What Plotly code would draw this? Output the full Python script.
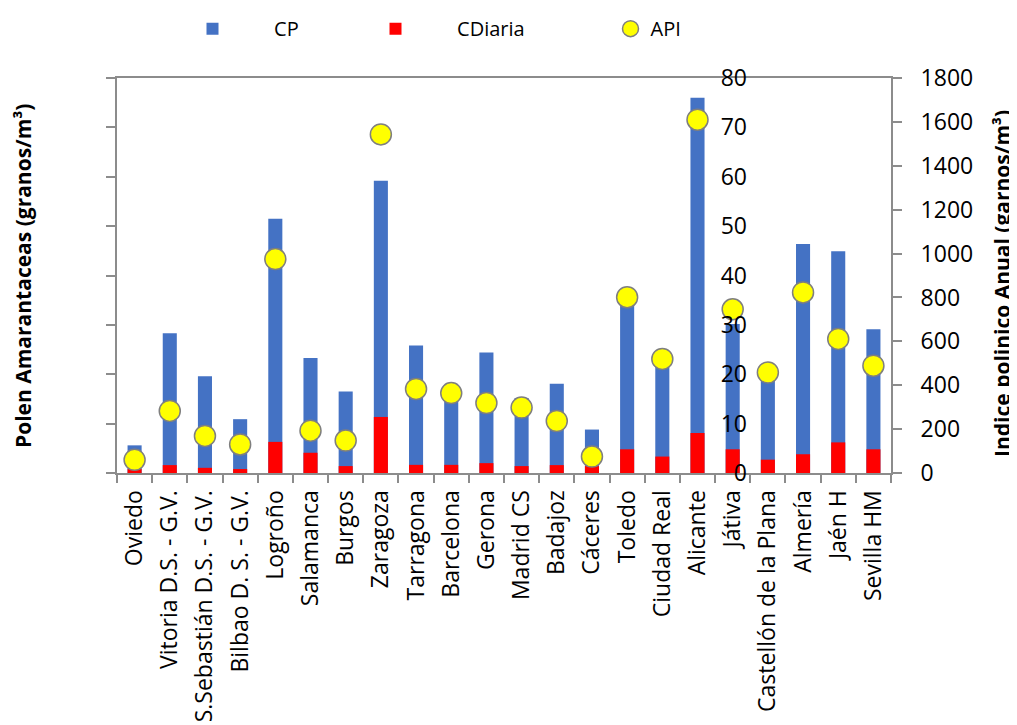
import plotly.graph_objects as go

cities = ["Oviedo", "Vitoria D.S. - G.V.", "S.Sebastián D.S. - G.V.", "Bilbao D. S. - G.V.",
          "Logroño", "Salamanca", "Burgos", "Zaragoza", "Tarragona", "Barcelona", "Gerona",
          "Madrid CS", "Badajoz", "Cáceres", "Toledo", "Ciudad Real", "Alicante", "Játiva",
          "Castellón de la Plana", "Almería", "Jaén H", "Sevilla HM"]
cp = [5.6, 28.3, 19.6, 10.9, 51.5, 23.3, 16.5, 59.2, 25.8, 15.5, 24.4,
      15.2, 18.1, 8.8, 35.0, 22.5, 76.0, 30.2, 19.8, 46.4, 44.9, 29.1]
cdiaria = [0.8, 1.6, 1.05, 0.8, 6.3, 4.1, 1.4, 11.35, 1.65, 1.65, 2.0,
           1.4, 1.6, 1.4, 4.8, 3.33, 8.1, 4.8, 2.7, 3.8, 6.2, 4.8]
api = [60, 283, 169, 130, 975, 193, 148, 1543, 383, 364, 319,
       298, 237, 75, 801, 520, 1610, 746, 458, 823, 611, 489]

FONT = "Open Sans"
AXC = "#8c8c8c"
OFF = 8  # page body margin
W, H = 1017 - OFF, 725 - OFF
L, T = 117 - OFF, 77.5 - OFF
R = W - (891 - OFF)
B = H - (473.5 - OFF)
PW = W - L - R
PH = H - T - B

def px_x(px):  # window pixel -> paper x
    return (px - OFF - L) / PW

def px_y(py):  # window pixel -> paper y
    return 1 + (T - (py - OFF)) / PH

nb = "\u00a0" * 8

fig = go.Figure()
fig.add_trace(go.Bar(x=cities, y=cp, name=nb + "CP", marker=dict(color="#4472C4", line=dict(width=0)),
                     width=0.4, yaxis="y", legend="legend"))
fig.add_trace(go.Bar(x=cities, y=cdiaria, name=nb + "CDiaria", marker=dict(color="#FF0000", line=dict(width=0)),
                     width=0.4, yaxis="y", legend="legend2"))
fig.add_trace(go.Scatter(x=cities, y=api, name="API", mode="markers", yaxis="y2", legend="legend3",
                         marker=dict(color="#FFFF00", size=21, line=dict(color="#7f7f7f", width=1.5))))
# invisible trace carrying the misplaced left-axis labels
fig.add_trace(go.Scatter(x=[cities[0]], y=[0], yaxis="y3", mode="markers", showlegend=False,
                         marker=dict(opacity=0), hoverinfo="skip"))

leg_common = dict(orientation="h", yanchor="middle", xanchor="left", y=px_y(28),
                  font=dict(family=FONT, size=20, color="black"), bgcolor="rgba(0,0,0,0)",
                  itemsizing="trace")
fig.update_layout(
    width=W, height=H,
    margin=dict(l=L, r=R, t=T, b=B, autoexpand=False),
    paper_bgcolor="white", plot_bgcolor="white",
    barmode="overlay",
    font=dict(family=FONT, size=23, color="black"),
    legend=dict(x=px_x(192.5), **leg_common),
    legend2=dict(x=px_x(375.5), **leg_common),
    legend3=dict(x=px_x(610.5), **leg_common),
    xaxis=dict(type="category", range=[-0.5, len(cities) - 0.5], tickangle=-90, tickson="boundaries",
               ticks="outside", ticklen=8,
               tickcolor=AXC, tickwidth=1.5, showline=True, linecolor=AXC, linewidth=2, mirror=True,
               showgrid=False, automargin=False, ticklabelstandoff=6,
               tickfont=dict(family=FONT, size=23, color="black")),
    yaxis=dict(range=[0, 80], dtick=10, showticklabels=False, ticks="outside", ticklen=9,
               tickcolor=AXC, tickwidth=1.5, showline=True, linecolor=AXC, linewidth=2,
               showgrid=False, zeroline=False, automargin=False),
    yaxis2=dict(range=[0, 1800], dtick=200, overlaying="y", side="right", ticks="outside", ticklen=9,
                tickcolor=AXC, tickwidth=1.5, showline=True, linecolor=AXC, linewidth=2,
                showgrid=False, zeroline=False, automargin=False, ticklabelstandoff=14,
                tickfont=dict(family=FONT, size=23, color="black")),
    yaxis3=dict(range=[0, 80], dtick=10, overlaying="y", side="left", anchor="free",
                position=px_x(747), ticks="", showline=False, showgrid=False, zeroline=False,
                automargin=False, tickfont=dict(family=FONT, size=23, color="black")),
    annotations=[
        dict(text="<b>Polen Amarantaceas (granos/m³)</b>", xref="paper", yref="paper",
             x=px_x(23), y=px_y(276), xanchor="center", yanchor="middle", textangle=-90, showarrow=False,
             font=dict(family=FONT, size=21, color="black")),
        dict(text="<b>Indice polinico Anual (garnos/m³)</b>", xref="paper", yref="paper",
             x=px_x(1002), y=px_y(284), xanchor="center", yanchor="middle", textangle=-90, showarrow=False,
             font=dict(family=FONT, size=21, color="black")),
    ],
)

fig.write_html("out.html")
